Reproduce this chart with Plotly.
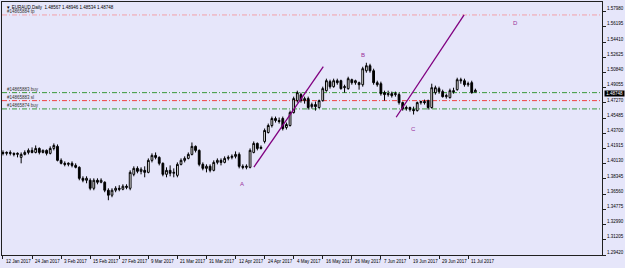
import plotly.graph_objects as go

# ---- data (EURAUD daily, 12 Jan 2017 .. 13 Jul 2017) ----
opens = [1.4146, 1.4135, 1.4146, 1.4135, 1.4123, 1.4088, 1.4123, 1.4146, 1.4170, 1.4146,
         1.4193, 1.4146, 1.4170, 1.4135, 1.4193, 1.4217, 1.4053, 1.4018, 1.4006, 1.4018,
         1.3994, 1.3971, 1.3842, 1.3819, 1.3819, 1.3725, 1.3819, 1.3796, 1.3796, 1.3702,
         1.3644, 1.3702, 1.3725, 1.3714, 1.3749, 1.3725, 1.3889, 1.3959, 1.3924, 1.3936,
         1.3912, 1.4053, 1.4111, 1.4088, 1.4018, 1.3889, 1.3936, 1.3901, 1.3877, 1.4006,
         1.4053, 1.4076, 1.4123, 1.4217, 1.4170, 1.4006, 1.3959, 1.3983, 1.3936, 1.4029,
         1.4053, 1.4029, 1.4076, 1.4088, 1.4100, 1.4123, 1.3983, 1.3971, 1.3971, 1.4146,
         1.4252, 1.4193, 1.4275, 1.4380, 1.4462, 1.4544, 1.4521, 1.4544, 1.4439, 1.4462,
         1.4614, 1.4754, 1.4825, 1.4754, 1.4778, 1.4684, 1.4708, 1.4673, 1.4754, 1.4871,
         1.4977, 1.4918, 1.4988, 1.4988, 1.4906, 1.4895, 1.5000, 1.4965, 1.4965, 1.4941,
         1.5105, 1.5164, 1.5105, 1.4965, 1.4953, 1.4848, 1.4825, 1.4836, 1.4825, 1.4825,
         1.4731, 1.4661, 1.4673, 1.4649, 1.4637, 1.4731, 1.4743, 1.4754, 1.4673, 1.4848,
         1.4895, 1.4860, 1.4801, 1.4790, 1.4871, 1.4883, 1.5000, 1.4988, 1.4941, 1.4965,
         1.48567]
highs = [1.4170, 1.4158, 1.4170, 1.4146, 1.4146, 1.4146, 1.4170, 1.4193, 1.4205, 1.4228,
         1.4205, 1.4181, 1.4181, 1.4217, 1.4252, 1.4240, 1.4076, 1.4041, 1.4029, 1.4041,
         1.4018, 1.3983, 1.3866, 1.3866, 1.3842, 1.3842, 1.3842, 1.3842, 1.3807, 1.3725,
         1.3725, 1.3749, 1.3761, 1.3772, 1.3772, 1.3936, 1.3983, 1.3983, 1.3971, 1.3983,
         1.4076, 1.4135, 1.4146, 1.4100, 1.4029, 1.3971, 1.3994, 1.3959, 1.4029, 1.4076,
         1.4100, 1.4146, 1.4263, 1.4228, 1.4181, 1.4029, 1.4006, 1.4006, 1.4053, 1.4076,
         1.4076, 1.4100, 1.4111, 1.4123, 1.4158, 1.4146, 1.4006, 1.4006, 1.4193, 1.4275,
         1.4263, 1.4228, 1.4427, 1.4485, 1.4567, 1.4567, 1.4556, 1.4567, 1.4497, 1.4637,
         1.4801, 1.4871, 1.4848, 1.4801, 1.4801, 1.4731, 1.4743, 1.4766, 1.4918, 1.5012,
         1.5000, 1.5012, 1.5012, 1.5000, 1.4941, 1.5035, 1.5012, 1.5000, 1.4977, 1.5152,
         1.5199, 1.5187, 1.5129, 1.4988, 1.4977, 1.4871, 1.4871, 1.4860, 1.4860, 1.4848,
         1.4743, 1.4696, 1.4684, 1.4684, 1.4743, 1.4754, 1.4766, 1.4766, 1.4953, 1.4930,
         1.4918, 1.4883, 1.4836, 1.4895, 1.4906, 1.5023, 1.5023, 1.5012, 1.4977, 1.4988,
         1.48946]
lows = [1.4111, 1.4111, 1.4111, 1.4100, 1.4088, 1.4018, 1.4111, 1.4123, 1.4135, 1.4135,
        1.4123, 1.4135, 1.4111, 1.4123, 1.4170, 1.4041, 1.4006, 1.3983, 1.3983, 1.3971,
        1.3959, 1.3819, 1.3796, 1.3784, 1.3702, 1.3702, 1.3772, 1.3784, 1.3679, 1.3585,
        1.3620, 1.3679, 1.3690, 1.3702, 1.3714, 1.3702, 1.3866, 1.3901, 1.3889, 1.3854,
        1.3901, 1.4029, 1.4065, 1.3994, 1.3866, 1.3854, 1.3866, 1.3854, 1.3854, 1.3994,
        1.4029, 1.4065, 1.4111, 1.4146, 1.3983, 1.3936, 1.3912, 1.3912, 1.3924, 1.4006,
        1.3994, 1.4018, 1.4053, 1.4065, 1.4076, 1.3959, 1.3948, 1.3948, 1.3959, 1.4135,
        1.4170, 1.4181, 1.4252, 1.4368, 1.4439, 1.4497, 1.4485, 1.4404, 1.4415, 1.4450,
        1.4602, 1.4731, 1.4731, 1.4719, 1.4649, 1.4661, 1.4637, 1.4661, 1.4743, 1.4860,
        1.4895, 1.4906, 1.4941, 1.4883, 1.4848, 1.4883, 1.4941, 1.4941, 1.4883, 1.4918,
        1.5082, 1.5082, 1.4941, 1.4918, 1.4813, 1.4754, 1.4801, 1.4790, 1.4801, 1.4708,
        1.4637, 1.4637, 1.4626, 1.4591, 1.4626, 1.4708, 1.4708, 1.4649, 1.4661, 1.4825,
        1.4836, 1.4790, 1.4778, 1.4778, 1.4836, 1.4871, 1.4953, 1.4918, 1.4918, 1.4836,
        1.48534]
closes = [1.4135, 1.4146, 1.4135, 1.4123, 1.4135, 1.4123, 1.4146, 1.4170, 1.4146, 1.4193,
          1.4146, 1.4170, 1.4135, 1.4193, 1.4228, 1.4053, 1.4018, 1.4006, 1.4018, 1.3994,
          1.3971, 1.3842, 1.3819, 1.3842, 1.3725, 1.3819, 1.3796, 1.3819, 1.3702, 1.3644,
          1.3702, 1.3725, 1.3714, 1.3749, 1.3737, 1.3912, 1.3959, 1.3924, 1.3948, 1.3912,
          1.4053, 1.4111, 1.4088, 1.4018, 1.3889, 1.3936, 1.3901, 1.3912, 1.4006, 1.4053,
          1.4076, 1.4123, 1.4217, 1.4170, 1.4006, 1.3959, 1.3983, 1.3936, 1.4029, 1.4053,
          1.4029, 1.4076, 1.4088, 1.4100, 1.4123, 1.3983, 1.3971, 1.3983, 1.4170, 1.4252,
          1.4193, 1.4205, 1.4404, 1.4462, 1.4544, 1.4521, 1.4509, 1.4427, 1.4474, 1.4614,
          1.4778, 1.4848, 1.4754, 1.4778, 1.4673, 1.4708, 1.4684, 1.4754, 1.4895, 1.4988,
          1.4918, 1.4988, 1.4965, 1.4895, 1.4918, 1.5012, 1.4965, 1.4988, 1.4941, 1.5129,
          1.5164, 1.5105, 1.4965, 1.4941, 1.4836, 1.4825, 1.4836, 1.4813, 1.4836, 1.4731,
          1.4661, 1.4673, 1.4649, 1.4637, 1.4731, 1.4743, 1.4731, 1.4673, 1.4906, 1.4906,
          1.4860, 1.4801, 1.4813, 1.4871, 1.4860, 1.5000, 1.4988, 1.4941, 1.4953, 1.4848,
          1.48748]
bar_index = list(range(len(closes)))

date_labels = ["12 Jan 2017", "24 Jan 2017", "3 Feb 2017", "15 Feb 2017", "27 Feb 2017",
               "9 Mar 2017", "21 Mar 2017", "31 Mar 2017", "12 Apr 2017", "24 Apr 2017",
               "4 May 2017", "16 May 2017", "26 May 2017", "7 Jun 2017", "19 Jun 2017",
               "29 Jun 2017", "11 Jul 2017"]
date_label_bars = [0, 8, 16, 24, 32, 40, 48, 56, 64, 72, 80, 88, 96, 104, 112, 120, 128]

price_ticks = [1.29420, 1.31205, 1.32990, 1.34775, 1.36560, 1.38345, 1.40130, 1.41915, 1.43700,
               1.45485, 1.47270, 1.49055, 1.50840, 1.52625, 1.54410, 1.56195, 1.57980]
price_tick_text = ["%.5f" % v for v in price_ticks]

title_text = "▼ EURAUD,Daily  1.48567 1.48946 1.48534 1.48748"
last_price = 1.48748

# order levels: (label, price, colour)
order_labels = ["#14865884 tp", "#14865883 buy", "#14865883 sl", "#14865874 buy"]
order_prices = [1.5760, 1.4848, 1.4754, 1.4657]
order_colors = ["#F2A0A8", "#3A9A3A", "#F04040", "#3A9A3A"]

# trend lines (bar index, price)
trend_x0 = [69.05, 108.2]
trend_y0 = [1.3974, 1.4559]
trend_x1 = [88.15, 126.9]
trend_y1 = [1.5152, 1.5760]

wave_labels = ["A", "B", "C", "D"]
wave_x = [65.8, 99.1, 113.0, 141.1]
wave_y = [1.3772, 1.5292, 1.4427, 1.5666]

BG = "#E6E6FA"
FONT = "Liberation Sans"

fig = go.Figure()
fig.add_trace(go.Candlestick(
    x=bar_index, open=opens, high=highs, low=lows, close=closes,
    increasing=dict(line=dict(color="black", width=1), fillcolor="white"),
    decreasing=dict(line=dict(color="black", width=1), fillcolor="black"),
    whiskerwidth=0, showlegend=False, hoverinfo="skip",
))

shapes = []
for p, c in zip(order_prices, order_colors):
    shapes.append(dict(type="line", xref="paper", x0=0, x1=1, yref="y", y0=p, y1=p,
                       line=dict(color=c, width=1, dash="5px,2px,1px,2px"), layer="below"))
for x0, y0, x1, y1 in zip(trend_x0, trend_y0, trend_x1, trend_y1):
    shapes.append(dict(type="line", xref="x", yref="y", x0=x0, y0=y0, x1=x1, y1=y1,
                       line=dict(color="#800080", width=1.3)))

annotations = []
annotations.append(dict(text=title_text, xref="paper", yref="paper", x=0.004, y=0.995,
                        xanchor="left", yanchor="top", showarrow=False,
                        font=dict(family=FONT, size=4.5, color="black")))
for lab, p in zip(order_labels, order_prices):
    annotations.append(dict(text=lab, xref="x", yref="y", x=0.5, y=p, xanchor="left",
                            yanchor="bottom", showarrow=False, yshift=-1,
                            font=dict(family=FONT, size=4.5, color="#333333")))
for lab, x, y in zip(wave_labels, wave_x, wave_y):
    annotations.append(dict(text=lab, xref="x", yref="y", x=x, y=y, showarrow=False,
                            font=dict(family=FONT, size=6, color="#9A2E9A")))
for lab, b in zip(date_labels, date_label_bars):
    annotations.append(dict(text=lab, xref="x", yref="paper", x=b, y=0, xanchor="left",
                            yanchor="top", xshift=1, yshift=-2, showarrow=False,
                            font=dict(family=FONT, size=4.5, color="black")))
annotations.append(dict(text=" %.5f " % last_price, xref="paper", yref="y", x=1, y=last_price,
                        xanchor="left", yanchor="middle", xshift=2, yshift=-3, showarrow=False,
                        bgcolor="black", borderpad=0,
                        font=dict(family=FONT, size=4.5, color="white")))

fig.update_layout(
    width=625, height=268,
    margin=dict(l=1, r=19, t=1, b=13),
    paper_bgcolor=BG, plot_bgcolor=BG,
    shapes=shapes, annotations=annotations,
    xaxis=dict(range=[-0.27, 164.85], rangeslider=dict(visible=False), showgrid=False,
               zeroline=False, showline=True, linecolor="#202020", linewidth=1, mirror=True,
               tickvals=date_label_bars, ticks="outside", ticklen=3, tickcolor="#202020",
               showticklabels=False, fixedrange=True),
    yaxis=dict(range=[1.2942, 1.5912], side="right", showgrid=False, zeroline=False,
               showline=True, linecolor="#202020", linewidth=1, mirror=True,
               tickvals=price_ticks, ticktext=price_tick_text, ticks="outside", ticklen=3,
               tickcolor="#202020", ticklabelshift=-3,
               tickfont=dict(family=FONT, size=4.5, color="black"), fixedrange=True),
    hovermode=False,
)

fig.write_html("out.html")
